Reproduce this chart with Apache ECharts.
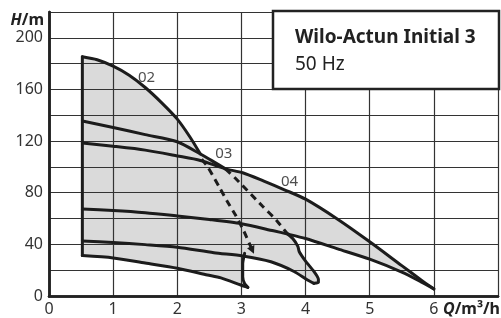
<!DOCTYPE html>
<html><head><meta charset="utf-8">
<script src="https://cdn.jsdelivr.net/npm/echarts@6/dist/echarts.min.js"></script>
<style>html,body{margin:0;padding:0;background:#fff}#c{width:501px;height:318px}</style>
</head><body><div id="c"></div>
<script>
// ---- tick labels ----
const xTickLabels = [0, 1, 2, 3, 4, 5, 6];
const yTickLabels = [0, 40, 80, 120, 160, 200];

// ---- curves (Q in m³/h, H in m) ----
const leftEdge   = [[0.52, 31.3], [0.52, 185.3]];
const curve02Top = [[0.52,185.3],[0.75,183],[1.0,178],[1.25,171],[1.5,161.5],[1.75,150],[2.0,137],[2.2,123],[2.36,110]];
const curve03Top = [[0.52,135.5],[1.0,130.5],[1.5,125],[2.0,119.5],[2.36,110],[2.55,104.5],[2.75,98.5]];
const curve04Top = [[0.52,118.5],[1.0,116],[1.5,113],[2.0,108.5],[2.36,105],[2.75,98.5],[3.02,95.5],[3.35,89],[3.67,82.3],[4.0,75],[4.5,59.5],[5.0,42],[5.5,23.5],[5.8,12.5],[6.0,5.5]];
const curve04Bot = [[0.52,67.3],[1.0,66.2],[1.5,64.5],[2.0,62],[2.5,59.3],[3.0,56],[3.5,50.5],[3.72,48],[4.0,44.5],[4.5,36.5],[5.0,28.5],[5.5,18.5],[5.8,11],[6.0,5.5]];
const dashed03   = [[2.75,98.5],[2.91,91],[3.33,69.5],[3.54,59],[3.72,48]];
const lobe03     = [[3.72,48],[3.8,44.5],[3.88,38.5],[3.9,34.5],[4.0,27],[4.13,19],[4.2,13],[4.2,10.5],[4.13,9.8]];
const curve03Bot = [[0.52,42.7],[1.0,41.4],[1.5,39.8],[2.0,37.8],[2.57,33.5],[3.02,31],[3.46,26.5],[3.82,19],[4.03,12.4],[4.13,9.8]];
const dashed02   = [[2.38,106],[2.47,100.4],[2.65,84.8],[2.78,73.2],[2.91,62.5],[3.04,50],[3.17,35.5]];
const lobe02     = [[3.05,33],[3.02,25],[3.02,15],[3.05,9.5],[3.1,6.7]];
const curve02Bot = [[0.52,31.3],[1.0,29.5],[1.5,25.5],[2.0,21.5],[2.47,16.3],[2.68,14],[2.99,8.5],[3.1,6.7]];
const curveLabels = [[1.52,169,'02'],[2.725,110.4,'03'],[3.75,88.6,'04']];

// shaded envelope built from the curves
const fillOutline = [].concat(
  curve02Top,
  curve03Top.slice(5),
  curve04Top.slice(6),
  curve04Bot.slice(7).reverse(),
  lobe03.slice(1),
  curve03Bot.slice(5, 9).reverse(),
  lobe02.slice(1),
  curve02Bot.slice(0, 7).reverse()
);

const INK = '#1c1c1c';
const FONT = 'Noto Sans';
function solid(data, smooth) {
  return { type: 'line', data: data, symbol: 'none', smooth: smooth === undefined ? 0.25 : smooth, z: 6,
    lineStyle: { color: INK, width: 3, cap: 'round', join: 'round' }, silent: true };
}
const borderAxis = { show: true, lineStyle: { color: '#222', width: 2.5 } };
// dashed 02 line ends with a small arrow head on its last point
const dashed02Data = dashed02.map((p, i) => i === dashed02.length - 1
  ? { value: p, symbol: 'triangle', symbolSize: 8, symbolRotate: 204 } : { value: p, symbol: 'none' });

const chart = echarts.init(document.getElementById('c'), null, { renderer: 'canvas' });
chart.setOption({
  animation: false,
  textStyle: { fontFamily: FONT },
  grid: { left: 49, right: 3, top: 12, bottom: 22 },
  xAxis: [{
    type: 'value', min: 0, max: 7, interval: 1,
    axisLine: borderAxis,
    axisTick: { show: false },
    splitLine: { show: true, lineStyle: { color: '#333', width: 1.2 } },
    axisLabel: { margin: 5, fontSize: 16, color: '#333', fontFamily: FONT,
      formatter: v => xTickLabels.indexOf(v) >= 0 ? String(v) : '' }
  }, {
    type: 'value', min: 0, max: 7, interval: 1, position: 'top',
    axisLine: borderAxis, axisTick: { show: false }, axisLabel: { show: false }, splitLine: { show: false }
  }],
  yAxis: [{
    type: 'value', min: 0, max: 220, interval: 20,
    axisLine: borderAxis,
    axisTick: { show: false },
    splitLine: { show: true, lineStyle: { color: '#333', width: 1.2 } },
    axisLabel: { margin: 6, fontSize: 16, color: '#333', fontFamily: FONT,
      formatter: v => yTickLabels.indexOf(v) >= 0 ? String(v) : '' }
  }, {
    type: 'value', min: 0, max: 220, interval: 20, position: 'right',
    axisLine: borderAxis, axisTick: { show: false }, axisLabel: { show: false }, splitLine: { show: false }
  }],
  series: [
    { type: 'custom', z: -5, silent: true, data: fillOutline,
      renderItem: function (params, api) {
        if (params.dataIndex !== 0) return null;
        return { type: 'polygon', shape: { points: fillOutline.map(p => api.coord(p)) },
                 style: { fill: '#dadada' } };
      } },
    solid(leftEdge, false),
    solid(curve02Top), solid(curve03Top), solid(curve04Top), solid(curve04Bot),
    solid(lobe03, 0.2), solid(curve03Bot), solid(lobe02, 0.2), solid(curve02Bot),
    { type: 'line', data: dashed03, symbol: 'none', smooth: 0.2, z: 6, silent: true,
      lineStyle: { color: INK, width: 3, type: [7, 5] } },
    { type: 'line', data: dashed02Data, showSymbol: true, smooth: 0.2, z: 6, silent: true,
      itemStyle: { color: INK, borderWidth: 0 },
      lineStyle: { color: INK, width: 3, type: [7, 5] } },
    { type: 'scatter', symbolSize: 0, z: 7, silent: true,
      data: curveLabels,
      label: { show: true, position: 'inside', formatter: p => p.value[2],
        fontSize: 15, color: '#222', fontFamily: FONT } }
  ],
  graphic: [
    { type: 'rect', z: 100, shape: { x: 273, y: 11, width: 226, height: 78 },
      style: { fill: '#fff', stroke: '#222', lineWidth: 2.5 } },
    { type: 'text', z: 101, x: 295, y: 38,
      style: { text: 'Wilo-Actun Initial 3', font: 'bold 19px "Noto Sans"', fill: '#222', textVerticalAlign: 'middle' } },
    { type: 'text', z: 101, x: 295, y: 65,
      style: { text: '50 Hz', font: '19px "Noto Sans"', fill: '#222', textVerticalAlign: 'middle' } },
    { type: 'text', z: 101, x: 44, y: 20,
      style: { text: '{i|H}{b|/m}', textAlign: 'right', textVerticalAlign: 'middle',
        rich: { i: { fontFamily: FONT, fontSize: 16, fontWeight: 'bold', fontStyle: 'italic', fill: '#222' },
                b: { fontFamily: FONT, fontSize: 16, fontWeight: 'bold', fill: '#222' } } } },
    { type: 'text', z: 101, x: 500, y: 309,
      style: { text: '{i|Q}{b|/m³/h}', textAlign: 'right', textVerticalAlign: 'middle',
        rich: { i: { fontFamily: FONT, fontSize: 16, fontWeight: 'bold', fontStyle: 'italic', fill: '#222' },
                b: { fontFamily: FONT, fontSize: 16, fontWeight: 'bold', fill: '#222' } } } }
  ]
});
</script>
</body></html>
